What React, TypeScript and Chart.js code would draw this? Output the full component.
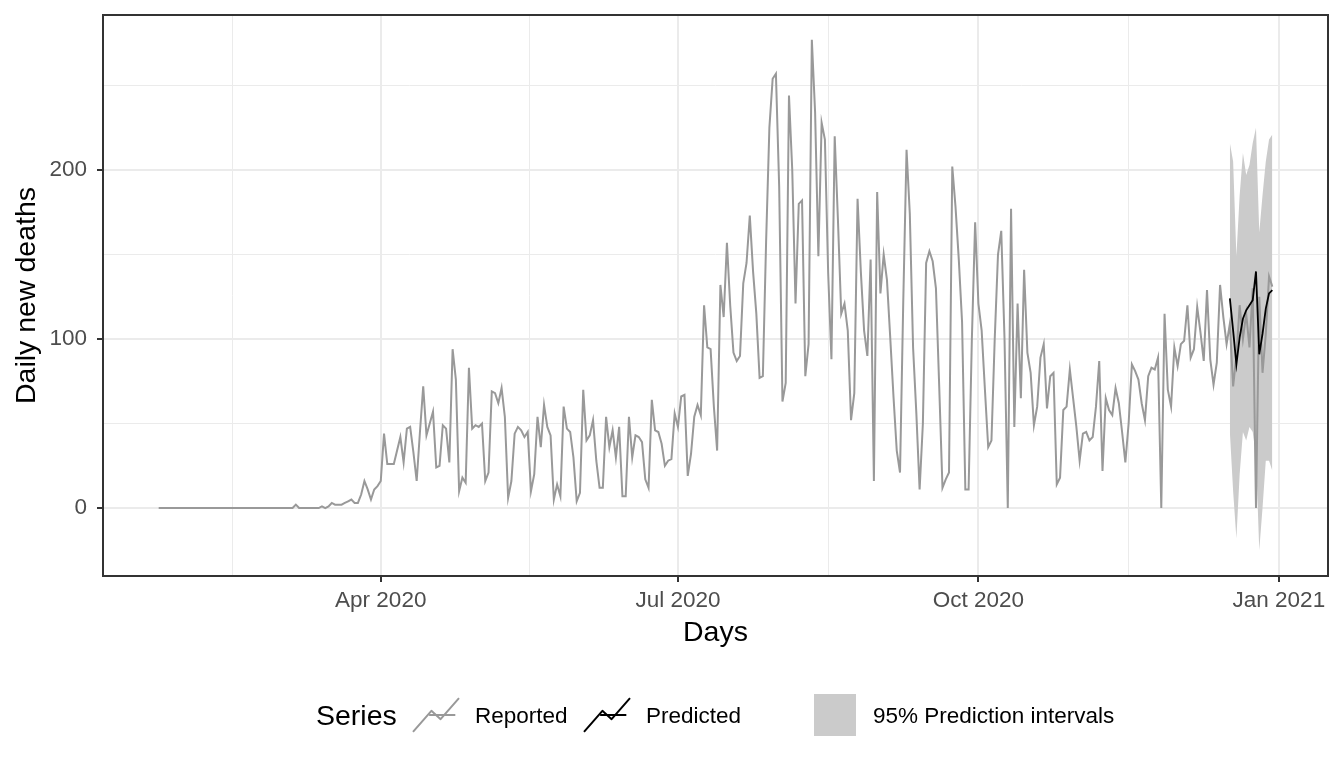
import React, { useEffect, useRef } from "react";
import { Chart, registerables } from "chart.js";

Chart.register(...registerables);

// x values are day numbers counted from 2020-01-01 (= day 0)
const REPORTED_START_DAY = 23; // 2020-01-24
const reportedDeaths: number[] = [
  // days 23-64
  0, 0, 0, 0, 0, 0, 0, 0, 0, 0,
  0, 0, 0, 0, 0, 0, 0, 0, 0, 0,
  0, 0, 0, 0, 0, 0, 0, 0, 0, 0,
  0, 0, 0, 0, 0, 0, 0, 0, 0, 0,
  0, 0,
  // 65-72
  2, 0, 0, 0, 0, 0, 0, 0,
  // 73-90
  1, 0, 1, 3, 2, 2, 2, 3, 4, 5, 3, 3, 8, 16, 11, 5, 11, 13,
  // 91-100
  16, 44, 26, 26, 26, 34, 42, 27, 47, 48,
  33, 16, 45, 72, 43, 50, 57, 24, 25, 49,
  47, 27, 94, 76, 10, 18, 15, 83, 47, 49,
  48, 50, 16, 21, 69, 68, 62, 71, 54, 6,
  16, 44, 48, 46, 42, 45, 10, 20, 54, 36,
  61, 48, 43, 5, 14, 7, 60, 47, 45, 30,
  4, 9, 70, 40, 43, 52, 28, 12, 12, 54,
  36, 46, 30, 48, 7, 7, 54, 30, 43, 42,
  39, 17, 12, 64, 46, 45, 38, 25, 28, 29,
  56, 48, 66, 67, 19, 32, 54, 61, 55, 120,
  // 191-200
  95, 94, 60, 34, 132, 113, 157, 120, 92, 87,
  90, 133, 145, 173, 140, 115, 77, 78, 158, 225,
  254, 257, 190, 63, 74, 244, 200, 121, 180, 182,
  78, 97, 277, 234, 149, 228, 218, 139, 88, 220,
  170, 115, 121, 105, 52, 68, 183, 140, 105, 90,
  147, 16, 187, 127, 150, 135, 101, 66, 34, 21,
  123, 212, 174, 95, 56, 11, 50, 145, 152, 146,
  130, 72, 12, 17, 21, 202, 178, 147, 110, 11,
  11, 100, 169, 121, 105, 70, 36, 40, 100, 150,
  164, 100, 0, 177, 48, 121, 65, 141, 92, 80,
  // 291-300
  49, 60, 89, 97, 59, 78, 80, 14, 18, 58,
  60, 82, 65, 48, 28, 44, 45, 40, 42, 60,
  87, 22, 65, 58, 55, 71, 62, 45, 27, 50,
  85, 81, 76, 62, 52, 78, 83, 82, 89, 0,
  115, 70, 60, 95, 84, 97, 99, 120, 89, 94,
  119, 104, 87, 129, 88, 73, 86, 132, 113, 97,
  // 351-364
  109, 72, 90, 120, 100, 115, 95, 130, 0, 125,
  80, 103, 137, 131,
];

const PREDICTED_START_DAY = 351; // 2020-12-17
const predictedDeaths: number[] = [124, 105, 85, 101, 112, 117, 120, 123, 140, 91, 103, 118, 127, 129];
const upper95: number[] = [216, 205, 149, 185, 210, 197, 203, 216, 225, 163, 185, 205, 218, 221];
const lower95: number[] = [45, 10, -18, 20, 45, 40, 48, 45, 30, -25, 0, 28, 28, 22];

const xMajorDays = [91, 182, 274, 366];
const xMajorLabels = ["Apr 2020", "Jul 2020", "Oct 2020", "Jan 2021"];
const xMinorDays = [45.5, 136.5, 228, 320];
const yMajorTicks = [0, 100, 200];
const yMinorTicks = [50, 150, 250];
const X_RANGE = [5.95, 381.05];
const Y_RANGE = [-40.2, 291.7];

const X_TITLE = "Days";
const Y_TITLE = "Daily new deaths";
const LEGEND_TITLE = "Series";
const SERIES_NAMES = ["Reported", "Predicted", "95% Prediction intervals"];

const REPORTED_COLOR = "#999999";
const PREDICTED_COLOR = "#000000";
const RIBBON_COLOR = "#CBCBCB";
const GRID_COLOR = "#EBEBEB";
const FONT = '"Liberation Sans", Arial, Helvetica, sans-serif';

const toPoints = (start: number, vals: number[]) => vals.map((v, i) => ({ x: start + i, y: v }));

function drawKey(ctx: CanvasRenderingContext2D, x: number, y: number, w: number, h: number, color: string) {
  const px = (f: number) => x + f * w;
  const py = (f: number) => y + h - f * h;
  ctx.save();
  ctx.strokeStyle = color;
  ctx.lineWidth = 2;
  ctx.lineJoin = "round";
  ctx.beginPath();
  ctx.moveTo(px(0), py(0.1));
  ctx.lineTo(px(0.4), py(0.6));
  ctx.lineTo(px(0.6), py(0.4));
  ctx.lineTo(px(1), py(0.9));
  ctx.stroke();
  ctx.beginPath();
  ctx.moveTo(px(0.35), py(0.5));
  ctx.lineTo(px(0.92), py(0.5));
  ctx.stroke();
  ctx.restore();
}

const panelPlugin = {
  id: "ggPanel",
  afterDraw(chart: any) {
    const { ctx, chartArea } = chart;
    ctx.save();
    ctx.strokeStyle = "#333333";
    ctx.lineWidth = 2;
    ctx.strokeRect(chartArea.left, chartArea.top, chartArea.right - chartArea.left, chartArea.bottom - chartArea.top);
    ctx.restore();

    // legend
    const cy = 717;
    ctx.save();
    ctx.textBaseline = "middle";
    ctx.textAlign = "left";
    ctx.fillStyle = "#000000";
    ctx.font = `28.5px ${FONT}`;
    ctx.fillText(LEGEND_TITLE, 316, cy);
    ctx.font = `22.5px ${FONT}`;
    drawKey(ctx, 413, 694, 46, 42, REPORTED_COLOR);
    ctx.fillText(SERIES_NAMES[0], 475, cy);
    drawKey(ctx, 584, 694, 46, 42, PREDICTED_COLOR);
    ctx.fillText(SERIES_NAMES[1], 646, cy);
    ctx.fillStyle = RIBBON_COLOR;
    ctx.fillRect(814, 694, 42, 42);
    ctx.fillStyle = "#000000";
    ctx.fillText(SERIES_NAMES[2], 873, cy);
    ctx.restore();
  },
};

function resetPadding(s: any) {
  s.paddingLeft = 0;
  s.paddingRight = 0;
  s.paddingTop = 0;
  s.paddingBottom = 0;
}

export default function App() {
  const canvasRef = useRef<HTMLCanvasElement | null>(null);

  useEffect(() => {
    const canvas = canvasRef.current;
    if (!canvas) return;
    const xMajorSet = new Set(xMajorDays);
    const yMajorSet = new Set(yMajorTicks);

    const chart = new Chart(canvas, {
      type: "line",
      data: {
        datasets: [
          {
            label: SERIES_NAMES[1],
            data: toPoints(PREDICTED_START_DAY, predictedDeaths),
            borderColor: PREDICTED_COLOR,
            borderWidth: 1.8,
            pointRadius: 0,
            fill: false,
            order: 0,
          },
          {
            label: SERIES_NAMES[0],
            data: toPoints(REPORTED_START_DAY, reportedDeaths),
            borderColor: REPORTED_COLOR,
            borderWidth: 2,
            pointRadius: 0,
            fill: false,
            order: 1,
          },
          {
            label: "upper",
            data: toPoints(PREDICTED_START_DAY, upper95),
            borderWidth: 0,
            borderColor: "rgba(0,0,0,0)",
            backgroundColor: RIBBON_COLOR,
            pointRadius: 0,
            fill: "+1",
            order: 2,
          },
          {
            label: "lower",
            data: toPoints(PREDICTED_START_DAY, lower95),
            borderWidth: 0,
            borderColor: "rgba(0,0,0,0)",
            pointRadius: 0,
            fill: false,
            order: 3,
          },
        ],
      },
      options: {
        responsive: false,
        animation: false,
        devicePixelRatio: 1,
        layout: { padding: { left: 0, right: 16, top: 15, bottom: 0 } },
        elements: { line: { tension: 0 }, point: { radius: 0 } },
        plugins: { legend: { display: false }, tooltip: { enabled: false } },
        scales: {
          x: {
            type: "linear",
            min: X_RANGE[0],
            max: X_RANGE[1],
            afterBuildTicks: (s: any) => {
              s.ticks = [...xMinorDays, ...xMajorDays].sort((a, b) => a - b).map((v) => ({ value: v }));
            },
            afterFit: (s: any) => {
              s.height = 192;
              resetPadding(s);
            },
            ticks: {
              autoSkip: false,
              maxRotation: 0,
              minRotation: 0,
              padding: 5,
              color: "#4D4D4D",
              font: { family: FONT, size: 22.5 },
              callback: (v: any) => {
                const i = xMajorDays.indexOf(Number(v));
                return i >= 0 ? xMajorLabels[i] : "";
              },
            },
            grid: {
              color: GRID_COLOR,
              lineWidth: (c: any) => (xMajorSet.has(c.tick?.value) ? 2 : 1),
              tickLength: 6,
              tickWidth: 2,
              tickColor: (c: any) => (xMajorSet.has(c.tick?.value) ? "#333333" : "rgba(0,0,0,0)"),
            },
            border: { display: false },
            title: {
              display: true,
              text: X_TITLE,
              color: "#000000",
              font: { family: FONT, size: 28.5 },
              padding: { top: 0, bottom: 118 },
            },
          },
          y: {
            type: "linear",
            min: Y_RANGE[0],
            max: Y_RANGE[1],
            afterBuildTicks: (s: any) => {
              s.ticks = [...yMajorTicks, ...yMinorTicks].sort((a, b) => a - b).map((v) => ({ value: v }));
            },
            afterFit: (s: any) => {
              s.width = 103;
              resetPadding(s);
            },
            ticks: {
              autoSkip: false,
              padding: 10,
              color: "#4D4D4D",
              font: { family: FONT, size: 22.5 },
              callback: (v: any) => (yMajorSet.has(Number(v)) ? String(v) : ""),
            },
            grid: {
              color: GRID_COLOR,
              lineWidth: (c: any) => (yMajorSet.has(c.tick?.value) ? 2 : 1),
              tickLength: 6,
              tickWidth: 2,
              tickColor: (c: any) => (yMajorSet.has(c.tick?.value) ? "#333333" : "rgba(0,0,0,0)"),
            },
            border: { display: false },
            title: {
              display: true,
              text: Y_TITLE,
              color: "#000000",
              font: { family: FONT, size: 28.5 },
              padding: { top: 10, bottom: 0 },
            },
          },
        },
      } as any,
      plugins: [panelPlugin],
    });
    return () => chart.destroy();
  }, []);

  return (
    <div style={{ position: "absolute", left: 0, top: 0, width: 1344, height: 768, background: "#ffffff" }}>
      <canvas ref={canvasRef} width={1344} height={768} style={{ display: "block" }} />
    </div>
  );
}
